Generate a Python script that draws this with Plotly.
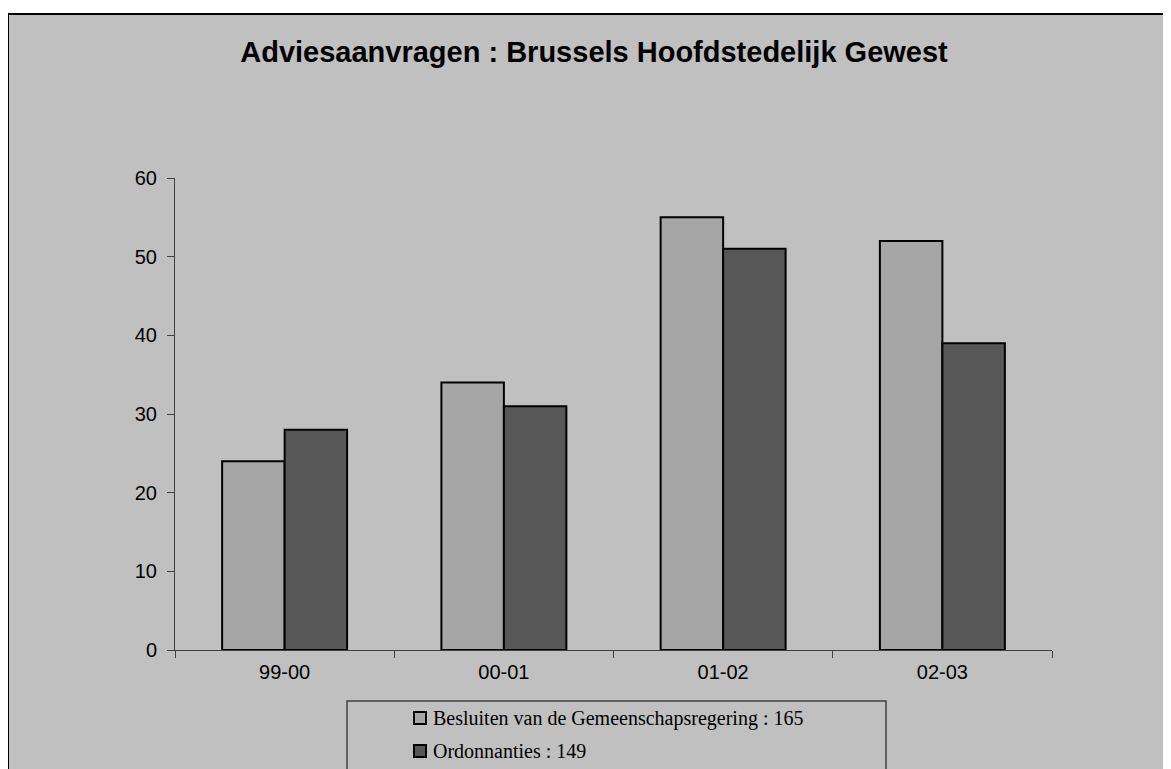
import plotly.graph_objects as go

categories = ["99-00", "00-01", "01-02", "02-03"]
besluiten = [24, 34, 55, 52]
ordonnanties = [28, 31, 51, 39]
series_names = ["Besluiten van de Gemeenschapsregering : 165", "Ordonnanties : 149"]
series_colors = ["#A6A6A6", "#575757"]
title_text = "Adviesaanvragen : Brussels Hoofdstedelijk Gewest"

OFF = 8  # page body margin
W, H = 1171 - OFF, 769 - OFF
L, R, T, B = 175 - OFF, 1052 - OFF, 178 - OFF, 650 - OFF

def px(x):
    return (x - OFF - L) / (R - L)

def py(y):
    return (B - (y - OFF)) / (B - T)

fig = go.Figure()
for vals, name, col in zip([besluiten, ordonnanties], series_names, series_colors):
    fig.add_trace(go.Bar(x=categories, y=vals, name=name,
                         marker=dict(color=col, line=dict(color="black", width=2)),
                         showlegend=False))

shapes = [
    dict(type="rect", xref="paper", yref="paper", x0=px(8), x1=px(1200), y0=py(14), y1=py(800),
         fillcolor="#C0C0C0", line=dict(color="black", width=2), layer="below"),
    dict(type="rect", xref="paper", yref="paper", x0=px(347), x1=px(886), y0=py(701), y1=py(800),
         fillcolor="rgba(0,0,0,0)", line=dict(color="#404040", width=1.5)),
]
annotations = []
rows = [718, 751]
for name, col, yc in zip(series_names, series_colors, rows):
    shapes.append(dict(type="rect", xref="paper", yref="paper", x0=px(414), x1=px(426),
                       y0=py(yc - 6), y1=py(yc + 6), fillcolor=col,
                       line=dict(color="black", width=2)))
    annotations.append(dict(text=name, xref="paper", yref="paper", x=px(431), y=py(yc),
                            xanchor="left", yanchor="middle", showarrow=False,
                            font=dict(family="Liberation Serif", size=20, color="black")))

fig.update_layout(
    width=W, height=H,
    margin=dict(l=L, r=W - R, t=T, b=H - B, pad=0),
    paper_bgcolor="white",
    plot_bgcolor="rgba(0,0,0,0)",
    bargap=0.43, bargroupgap=0, barmode="group",
    title=dict(text="<b>" + title_text + "</b>", x=(594 - OFF) / W, y=1 - (52 - OFF) / H,
               xanchor="center", yanchor="middle", xref="container", yref="container",
               font=dict(family="Liberation Sans", size=29, color="black")),
    font=dict(family="Liberation Sans", size=20, color="black"),
    shapes=shapes,
    annotations=annotations,
)
fig.update_xaxes(type="category", range=[-0.5, 3.5], showline=True, linecolor="#404040", linewidth=1,
                 ticks="outside", tickson="boundaries", ticklen=7, tickcolor="#404040",
                 showgrid=False, zeroline=False, tickfont=dict(size=20), ticklabelstandoff=4)
fig.update_yaxes(range=[0, 60], dtick=10, showline=True, linecolor="#404040", linewidth=1,
                 ticks="outside", ticklen=7, tickcolor="#404040", showgrid=False,
                 zeroline=False, tickfont=dict(size=20), ticklabelstandoff=6)

fig.write_html("out.html")
